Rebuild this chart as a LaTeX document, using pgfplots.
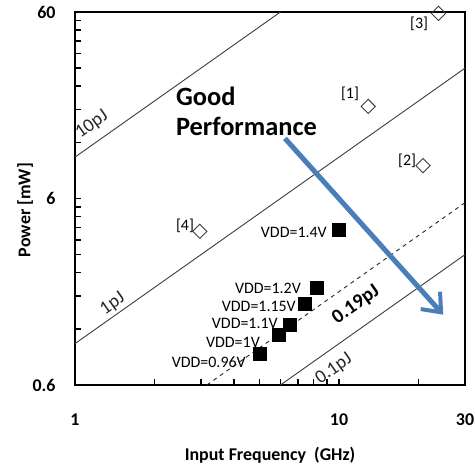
\documentclass[border=0pt]{standalone}
\usepackage{fontspec}
\setmainfont{Carlito}
\usepackage{pgfplots}
\pgfplotsset{compat=1.18}
\usetikzlibrary{arrows.meta}
\definecolor{arrowblue}{RGB}{74,126,187}
\definecolor{lgray}{RGB}{60,60,60}

\begin{document}
\begin{tikzpicture}
\begin{axis}[
  scale only axis, width=390bp, height=373bp,
  xmode=log, ymode=log,
  xmin=1, xmax=30, ymin=0.6, ymax=60,
  xtick={1,10,30}, xticklabels={1,10,30},
  ytick={0.6,6,60}, yticklabels={0.6,6,60},
  minor xtick={2,3,4,5,6,7,8,9,20},
  minor ytick={1.2,1.8,2.4,3,3.6,4.2,4.8,5.4,12,18,24,30,36,42,48,54},
  xtick pos=bottom, ytick pos=left,
  tick align=inside,
  major tick length=6bp, minor tick length=6bp,
  every tick/.style={black, line width=1.5bp},
  axis line style={line width=2bp},
  xticklabel style={font=\fontsize{18}{20}\selectfont\bfseries, anchor=center, yshift=-35bp},
  yticklabel style={font=\fontsize{18}{20}\selectfont\bfseries, anchor=east, xshift=-16bp},
  xlabel={Input Frequency\ \ (GHz)},
  ylabel={Power [mW]},
  xlabel style={font=\fontsize{18}{20}\selectfont\bfseries, at={(axis description cs:0.5,-0.188)}, anchor=center},
  ylabel style={font=\fontsize{18}{20}\selectfont\bfseries, at={(axis description cs:-0.128,0.469)}, anchor=center},
  clip=false,
]
% constant energy lines
\addplot[lgray, line width=0.9bp] coordinates {(1,10) (6,60)};
\addplot[lgray, line width=0.9bp] coordinates {(1,1) (30,30)};
\addplot[black!85, line width=0.9bp, dash pattern=on 4bp off 4bp] coordinates {(3.158,0.6) (30,5.7)};
\addplot[lgray, line width=0.9bp] coordinates {(6,0.6) (30,3)};

% other works
\addplot[only marks, mark=square, mark size=5bp, mark options={rotate=45, draw=lgray, line width=0.9bp, fill=white}]
  coordinates {(12.9,18.7) (20.8,9.0) (23.8,59.0) (2.97,4.0)};

% this work
\addplot[only marks, mark=square*, mark size=6.5bp, mark options={fill=black, draw=black}]
  coordinates {(10.0,4.08) (8.24,2.0) (7.39,1.63) (6.52,1.27) (5.89,1.11) (5.02,0.88)};

% labels
\node[font=\fontsize{16}{18}\selectfont] at (11.0,21.8) {[1]};
\node[font=\fontsize{16}{18}\selectfont] at (18.1,9.5) {[2]};
\node[font=\fontsize{16}{18}\selectfont] at (20.1,51.8) {[3]};
\node[font=\fontsize{16}{18}\selectfont] at (2.61,4.3) {[4]};

\node[anchor=east, inner sep=0pt, font=\fontsize{16}{18}\selectfont] at (9.0,3.94) {VDD=1.4V};
\node[anchor=east, inner sep=0pt, font=\fontsize{16}{18}\selectfont] at (7.18,1.99) {VDD=1.2V};
\node[anchor=east, inner sep=0pt, font=\fontsize{16}{18}\selectfont] at (6.87,1.575) {VDD=1.15V};
\node[anchor=east, inner sep=0pt, font=\fontsize{16}{18}\selectfont] at (5.87,1.276) {VDD=1.1V};
\node[anchor=east, inner sep=0pt, font=\fontsize{16}{18}\selectfont] at (5.02,1.02) {VDD=1V};
\node[anchor=east, inner sep=0pt, font=\fontsize{16}{18}\selectfont] at (4.44,0.80) {VDD=0.96V};

\node[rotate=35.24, inner sep=0pt, font=\fontsize{19}{21}\selectfont, text=black!85] at (1.16,14.9) {10pJ};
\node[rotate=35.24, inner sep=0pt, font=\fontsize{19}{21}\selectfont, text=black!85] at (1.39,1.63) {1pJ};
\node[rotate=35.24, inner sep=0pt, font=\fontsize{19}{21}\selectfont, text=black!85] at (9.57,0.73) {0.1pJ};
\node[rotate=35.24, inner sep=0pt, font=\fontsize{20}{22}\selectfont\bfseries] at (11.6,1.61) {0.19pJ};

\node[anchor=west, align=left, inner sep=0pt, font=\fontsize{26.5}{31}\selectfont\bfseries] at (2.41,17.6) {Good\\Performance};

\draw[arrowblue, line width=5bp, -{Straight Barb[length=16bp, width=26bp, line width=4bp]}] (6.24,12.6) -- (24.8,1.43);
\end{axis}
\pgfresetboundingbox
\path[use as bounding box] ([shift={(-75bp,-85bp)}]current axis.south west) rectangle ([shift={(10bp,12bp)}]current axis.north east);
\end{tikzpicture}
\end{document}
